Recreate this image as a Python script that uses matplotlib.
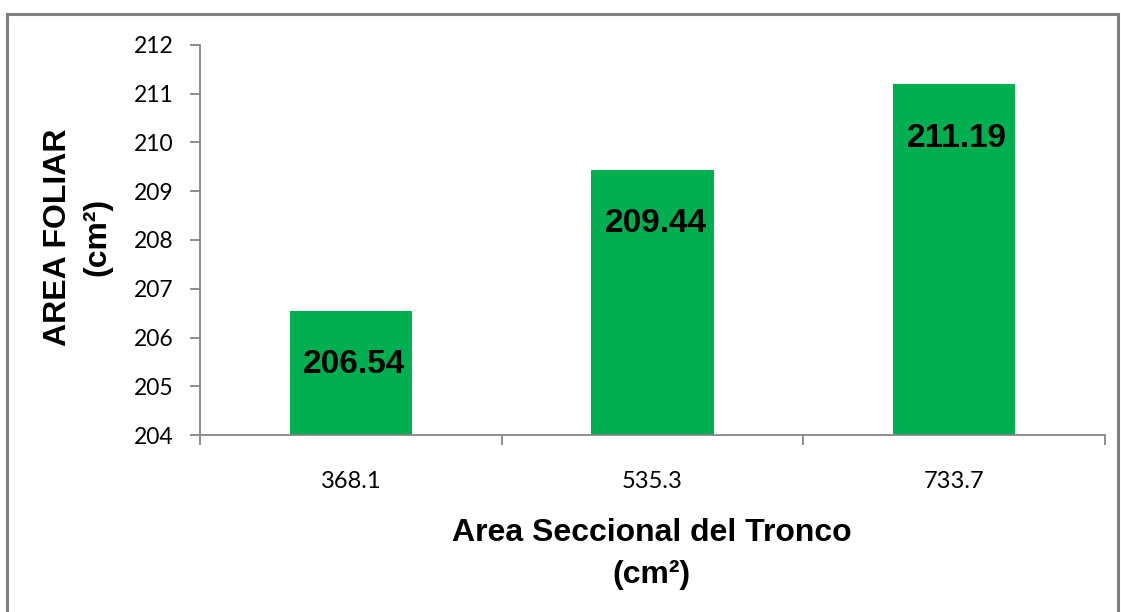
import matplotlib
matplotlib.use('Agg')
import matplotlib.pyplot as plt
from matplotlib.patches import Rectangle

# trunk cross-sectional area classes and mean leaf area per class
categories = ['368.1', '535.3', '733.7']
leaf_area = [206.54, 209.44, 211.19]
y_ticks = [204, 205, 206, 207, 208, 209, 210, 211, 212]

BAR_COLOR = '#00B050'
AXIS_GRAY = '#868686'
BASE = 204

fig = plt.figure(figsize=(11.21, 6.12), dpi=100)
ax = fig.add_axes([0.1784, 0.2892, 0.8073, 0.6373])

x = list(range(len(categories)))
ax.bar(x, [v - BASE for v in leaf_area], bottom=BASE, width=0.405,
       color=BAR_COLOR, zorder=2)

for xi, v in zip(x, leaf_area):
    ax.text(xi + 0.01, v - 1.1, f'{v:.2f}', ha='center', va='center',
            fontsize=24, fontweight='bold', family='Liberation Sans', color='black')

ax.set_xlim(-0.5, len(categories) - 0.5)
ax.set_ylim(204, 212)
ax.set_yticks(y_ticks)
ax.set_yticklabels([str(t) for t in y_ticks], family='Lato', fontsize=16.5)

# category labels at bar centres, tick marks on the category boundaries
ax.set_xticks(x)
ax.set_xticklabels(categories, family='Lato', fontsize=17)
ax.tick_params(axis='x', length=0, pad=26)
ax.set_xticks([i - 0.5 for i in range(len(categories) + 1)], minor=True)
ax.tick_params(axis='x', which='minor', length=7, color=AXIS_GRAY, width=1.3)
ax.tick_params(axis='y', length=7, color=AXIS_GRAY, width=1.3, pad=12)

for s in ['top', 'right']:
    ax.spines[s].set_visible(False)
for s in ['left', 'bottom']:
    ax.spines[s].set_color(AXIS_GRAY)
    ax.spines[s].set_linewidth(1.3)

fig.text(0.052, 0.6127, 'AREA FOLIAR', rotation=90, ha='center', va='center',
         fontsize=23, fontweight='bold', family='Liberation Sans')
fig.text(0.087, 0.6127, '(cm²)', rotation=90, ha='center', va='center',
         fontsize=23, fontweight='bold', family='Liberation Sans')
fig.text(0.5815, 0.129, 'Area Seccional del Tronco', ha='center', va='center',
         fontsize=23, fontweight='bold', family='Liberation Sans')
fig.text(0.5815, 0.060, '(cm²)', ha='center', va='center',
         fontsize=23, fontweight='bold', family='Liberation Sans')

# outer chart frame, running off the bottom edge
fig.patches.append(Rectangle((0.0065, -0.05), 0.9905, 1.027, transform=fig.transFigure,
                             fill=False, edgecolor='#7f7f7f', linewidth=2.2))

fig.savefig('out.png', dpi=100)
